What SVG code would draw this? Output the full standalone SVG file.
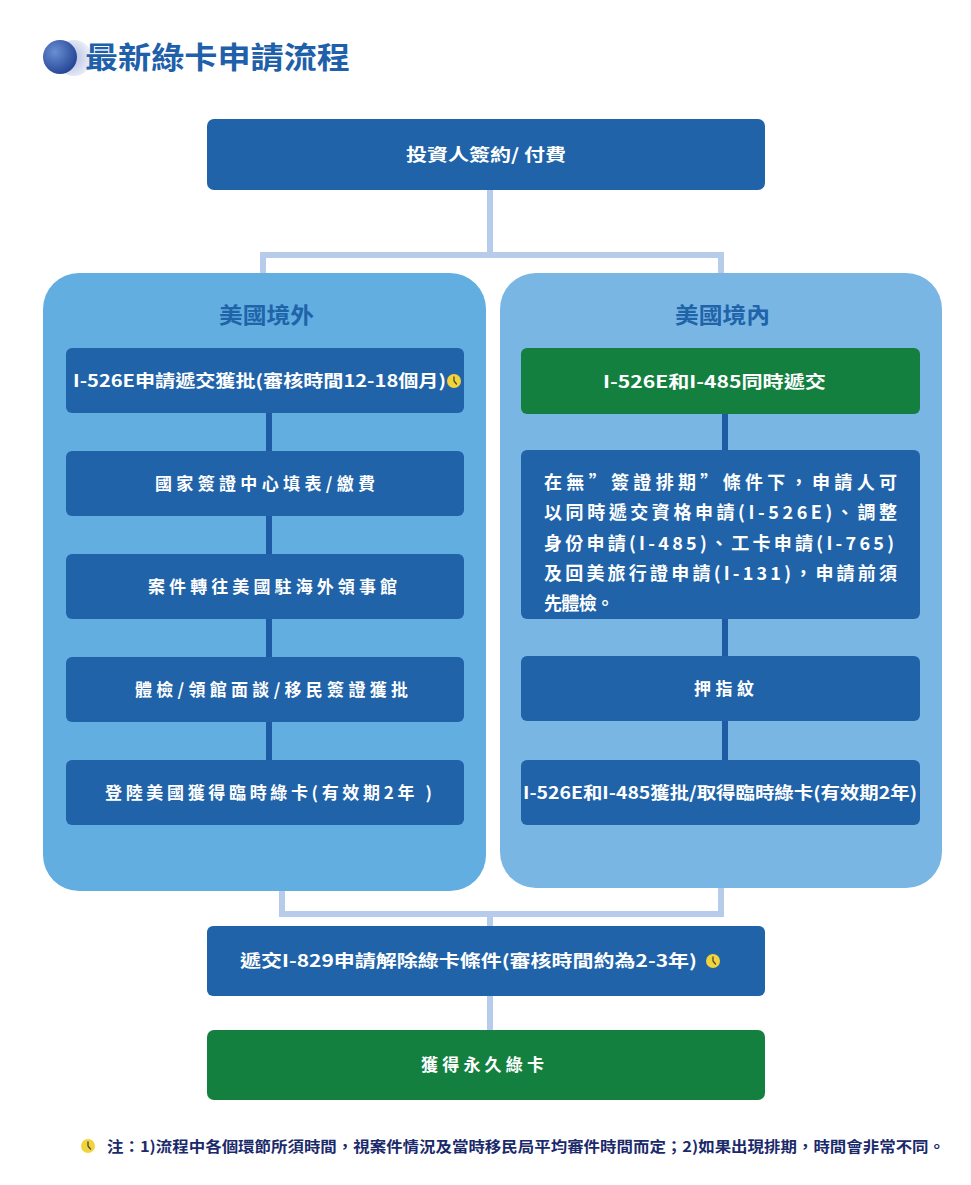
<svg xmlns="http://www.w3.org/2000/svg" width="971" height="1185" viewBox="0 0 971 1185">
<defs>
<radialGradient id="ballG" cx="0.35" cy="0.35" r="0.75">
<stop offset="0" stop-color="#6a8fd4"/>
<stop offset="1" stop-color="#1f3f8f"/>
</radialGradient>
<radialGradient id="haloG" cx="0.4" cy="0.5" r="0.6">
<stop offset="0" stop-color="#a9b7de"/>
<stop offset="1" stop-color="#eef1f9"/>
</radialGradient>
<g id="clock">
<circle r="7" fill="#f1d43c"/>
<path d="M0,-4 L0,0 L2.5,3" fill="none" stroke="#4a4a3a" stroke-width="1.3" stroke-linecap="round"/>
</g>
</defs>
<style>
.t{font-family:"Noto Sans CJK TC","Noto Sans CJK SC",sans-serif;font-weight:bold;fill:#ffffff;font-size:17px;dominant-baseline:central;}
.box{fill:#2063a9;}
.green{fill:#13803f;}
.lc{fill:none;stroke:#b7cbeb;stroke-width:6;}
.dc{fill:none;stroke:#1d5ca5;stroke-width:6;}
.ptitle{font-family:"Noto Sans CJK TC","Noto Sans CJK SC",sans-serif;font-weight:bold;fill:#1f63a9;font-size:22px;dominant-baseline:central;}
</style>
<rect width="971" height="1185" fill="#ffffff"/>

<g id="title">
<circle cx="74" cy="58" r="18" fill="url(#haloG)"/>
<circle cx="60" cy="57" r="17" fill="url(#ballG)"/>
<text x="85" y="55" class="t" style="fill:#1f60aa;font-size:30px" textLength="265" lengthAdjust="spacingAndGlyphs">最新綠卡申請流程</text>
</g>

<g id="panel-left">
<rect x="43" y="273" width="443" height="618" rx="36" fill="#62aee1"/>
<text x="219" y="313" class="ptitle" textLength="95" lengthAdjust="spacingAndGlyphs">美國境外</text>
</g>
<g id="panel-right">
<rect x="500" y="273" width="442" height="615" rx="36" fill="#79b6e4"/>
<text x="675" y="313" class="ptitle" textLength="95" lengthAdjust="spacingAndGlyphs">美國境內</text>
</g>

<g id="connectors">
<path class="lc" d="M490,190 V255 M263,273 V255 H721 V273 M490,996 V1030"/>
<path class="lc" d="M282,891 V914 H721 V888 M490,914 V926"/>
<path class="dc" d="M269,413 V451 M269,516 V554 M269,619 V657 M269,722 V760"/>
<path class="dc" d="M725,414 V450 M725,619 V656 M725,721 V760"/>
</g>

<g id="n-top">
<rect x="207" y="119" width="558" height="71" rx="7" class="box"/>
<text x="406" y="153" class="t" textLength="160" lengthAdjust="spacingAndGlyphs">投資人簽約/ 付費</text>
</g>

<g id="n-l1">
<rect x="66" y="348" width="398" height="65" rx="6" class="box"/>
<text x="73" y="379" class="t" textLength="373" lengthAdjust="spacingAndGlyphs">I-526E申請遞交獲批(審核時間12-18個月)</text>
<use href="#clock" x="454" y="381"/>
</g>
<g id="n-l2">
<rect x="66" y="451" width="398" height="65" rx="6" class="box"/>
<text x="155" y="482" class="t" textLength="220" lengthAdjust="spacing">國家簽證中心填表/繳費</text>
</g>
<g id="n-l3">
<rect x="66" y="554" width="398" height="65" rx="6" class="box"/>
<text x="148" y="585" class="t" textLength="249" lengthAdjust="spacing">案件轉往美國駐海外領事館</text>
</g>
<g id="n-l4">
<rect x="66" y="657" width="398" height="65" rx="6" class="box"/>
<text x="135" y="688" class="t" textLength="273" lengthAdjust="spacing">體檢/領館面談/移民簽證獲批</text>
</g>
<g id="n-l5">
<rect x="66" y="760" width="398" height="65" rx="6" class="box"/>
<text x="105" y="791" class="t" textLength="327" lengthAdjust="spacing">登陸美國獲得臨時綠卡(有效期2年 )</text>
</g>

<g id="n-r1">
<rect x="521" y="348" width="399" height="66" rx="6" class="green"/>
<text x="603" y="380" class="t" textLength="223" lengthAdjust="spacingAndGlyphs">I-526E和I-485同時遞交</text>
</g>
<g id="n-r2">
<rect x="521" y="450" width="399" height="169" rx="6" class="box"/>
<text class="t" style="font-size:18px">
<tspan x="544" y="481" textLength="353" lengthAdjust="spacing">在無”簽證排期”條件下，申請人可</tspan>
<tspan x="544" y="511" textLength="353" lengthAdjust="spacing">以同時遞交資格申請(I-526E)、調整</tspan>
<tspan x="544" y="542" textLength="350" lengthAdjust="spacing">身份申請(I-485)、工卡申請(I-765)</tspan>
<tspan x="544" y="572" textLength="353" lengthAdjust="spacing">及回美旅行證申請(I-131)，申請前須</tspan>
<tspan x="544" y="602" textLength="70" lengthAdjust="spacing">先體檢。</tspan>
</text>
</g>
<g id="n-r3">
<rect x="521" y="656" width="399" height="65" rx="6" class="box"/>
<text x="694" y="687" class="t" textLength="60" lengthAdjust="spacing">押指紋</text>
</g>
<g id="n-r4">
<rect x="521" y="760" width="399" height="65" rx="6" class="box"/>
<text x="523" y="791" class="t" textLength="394" lengthAdjust="spacingAndGlyphs">I-526E和I-485獲批/取得臨時綠卡(有效期2年)</text>
</g>

<g id="n-i829">
<rect x="207" y="926" width="558" height="70" rx="6" class="box"/>
<text x="240" y="959" class="t" textLength="457" lengthAdjust="spacingAndGlyphs">遞交I-829申請解除綠卡條件(審核時間約為2-3年)</text>
<use href="#clock" x="713" y="961"/>
</g>

<g id="n-final">
<rect x="207" y="1030" width="558" height="70" rx="7" class="green"/>
<text x="421" y="1063" class="t" textLength="123" lengthAdjust="spacing">獲得永久綠卡</text>
</g>

<g id="note">
<use href="#clock" x="88" y="1146"/>
<text x="107" y="1145" class="t" style="fill:#1b2a6b;font-size:15px" textLength="838" lengthAdjust="spacingAndGlyphs">注：1)流程中各個環節所須時間，視案件情況及當時移民局平均審件時間而定；2)如果出現排期，時間會非常不同。</text>
</g>
</svg>
